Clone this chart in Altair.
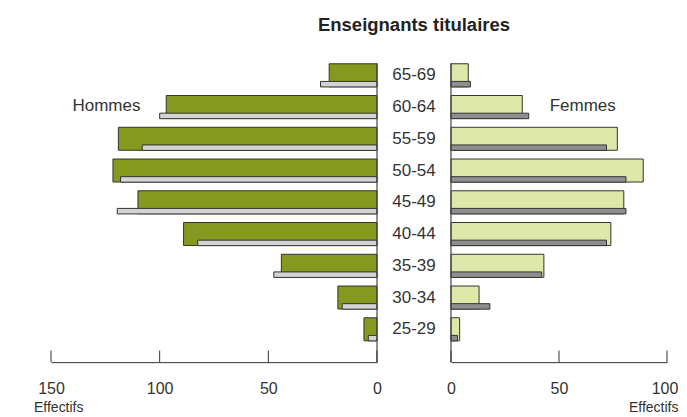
import altair as alt
import pandas as pd

# ---- data ----
ages = ["65-69", "60-64", "55-59", "50-54", "45-49", "40-44", "35-39", "30-34", "25-29"]
hommes = [22, 97, 119, 121.5, 110, 89, 44, 18, 6]
hommes_prec = [26, 100, 108, 118, 119.5, 82.5, 47.5, 16, 4]
femmes = [8, 33, 77, 89, 80, 74, 43, 13, 4]
femmes_prec = [9, 36, 72, 81, 81, 72, 42, 18, 3]
ticks_h = [0, 50, 100, 150]
ticks_f = [0, 50, 100]

title_txt = "Enseignants titulaires"
label_h = "Hommes"
label_f = "Femmes"
axis_title = "Effectifs"

df = pd.DataFrame({"age": ages, "h": hommes, "hp": hommes_prec,
                   "f": femmes, "fp": femmes_prec})
df_th = pd.DataFrame({"v": ticks_h})
df_tf = pd.DataFrame({"v": ticks_f})
df_zero = pd.DataFrame({"v": [0]})
one = alt.Data(values=[{}])

W = 616
H = 285.75
AX_Y = H + 17

FONT = "Liberation Sans"
TXT = "#333333"

h_scale = alt.Scale(domain=[0, 150], range=[326, 0], nice=False, zero=True)
f_scale = alt.Scale(domain=[0, 100], range=[400, 616], nice=False, zero=True)

y_enc = alt.Y("age:N", sort=ages,
              scale=alt.Scale(paddingInner=0, paddingOuter=0), axis=None)


def make_axis(vals, last_shift=0):
    kw = {}
    if last_shift:
        kw["labelOffset"] = {"condition": {"test": "datum.value == 100",
                                           "value": last_shift},
                             "value": 0}
    return alt.Axis(orient="bottom", offset=17, values=vals, ticks=False,
                    tickSize=0, labelFontSize=16, labelColor=TXT,
                    labelPadding=18.5, labelFlush=False, labelOverlap=False,
                    domainColor="#333333", domainWidth=1, grid=False,
                    title=None, format="d", labelFont=FONT, **kw)


base = alt.Chart(df)

men_main = base.mark_bar(size=23, color="#86991f", stroke="#333333",
                         strokeWidth=1).encode(
    x=alt.X("h:Q", scale=h_scale, axis=make_axis(ticks_h)), y=y_enc)
men_prev = base.mark_bar(size=5.5, yOffset=8.9, color="#d3d3d3",
                         stroke="#333333", strokeWidth=1).encode(
    x=alt.X("hp:Q", scale=h_scale, axis=None), y=y_enc)
wom_main = base.mark_bar(size=23, color="#dee8a8", stroke="#333333",
                         strokeWidth=1).encode(
    x=alt.X("f:Q", scale=f_scale, axis=make_axis(ticks_f, -2.5)), y=y_enc)
wom_prev = base.mark_bar(size=5.5, yOffset=8.9, color="#8e8e8e",
                         stroke="#333333", strokeWidth=1).encode(
    x=alt.X("fp:Q", scale=f_scale, axis=None), y=y_enc)

vline_h = alt.Chart(df_zero).mark_rule(color="#444444", strokeWidth=1.2).encode(
    x=alt.X("v:Q", scale=h_scale, axis=None),
    y=alt.value(3.9), y2=alt.value(AX_Y))
vline_f = alt.Chart(df_zero).mark_rule(color="#444444", strokeWidth=1.2).encode(
    x=alt.X("v:Q", scale=f_scale, axis=None),
    y=alt.value(3.9), y2=alt.value(AX_Y))

tick_h = alt.Chart(df_th).mark_rule(color="#333333", strokeWidth=1).encode(
    x=alt.X("v:Q", scale=h_scale, axis=None),
    y=alt.value(AX_Y - 11.5), y2=alt.value(AX_Y))
tick_f = alt.Chart(df_tf).mark_rule(color="#333333", strokeWidth=1).encode(
    x=alt.X("v:Q", scale=f_scale, axis=None),
    y=alt.value(AX_Y - 11.5), y2=alt.value(AX_Y))

age_txt = base.mark_text(align="center", baseline="middle", fontSize=17,
                         color=TXT, font=FONT).encode(
    x=alt.value(363), y=y_enc, text="age:N")

title = alt.Chart(one).mark_text(text=title_txt, align="center",
                                 baseline="alphabetic", fontSize=18.5,
                                 fontWeight="bold", color="#222222",
                                 font=FONT).encode(
    x=alt.value(363), y=alt.value(-28.4))
hom = alt.Chart(one).mark_text(text=label_h, align="center",
                               baseline="alphabetic", fontSize=17,
                               color=TXT, font=FONT).encode(
    x=alt.value(55.4), y=alt.value(51.3))
fem = alt.Chart(one).mark_text(text=label_f, align="center",
                               baseline="alphabetic", fontSize=17,
                               color=TXT, font=FONT).encode(
    x=alt.value(531.7), y=alt.value(51.3))
eff_l = alt.Chart(one).mark_text(text=axis_title, align="left",
                                 baseline="alphabetic", fontSize=14,
                                 color=TXT, font=FONT).encode(
    x=alt.value(-17), y=alt.value(352.3))
eff_r = alt.Chart(one).mark_text(text=axis_title, align="right",
                                 baseline="alphabetic", fontSize=14,
                                 color=TXT, font=FONT).encode(
    x=alt.value(627.5), y=alt.value(352.3))

chart = alt.layer(
    men_main, men_prev, wom_main, wom_prev,
    vline_h, vline_f, tick_h, tick_f,
    age_txt, title, hom, fem, eff_l, eff_r
).resolve_scale(x="independent").properties(
    width=W, height=H,
    padding={"left": 43, "top": 51.4, "right": 12, "bottom": 73},
    autosize=alt.AutoSizeParams(type="none"),
    background="white",
).configure(font=FONT).configure_view(strokeWidth=0, stroke="transparent")

chart.save("out.html", embed_options={"renderer": "svg", "actions": False})
